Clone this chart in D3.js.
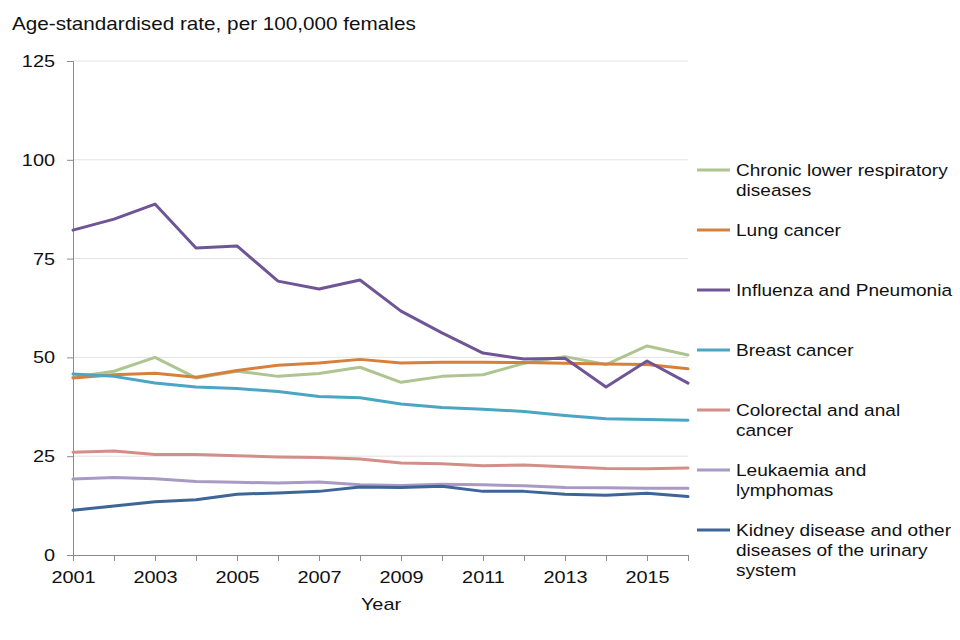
<!DOCTYPE html>
<html><head><meta charset="utf-8">
<script src="https://cdn.jsdelivr.net/npm/d3@7"></script>
<style>body{margin:0;background:#fff;}svg{display:block;font-family:"Liberation Sans",Arial,sans-serif;}</style>
</head><body>
<svg id="chart" width="960" height="640"></svg>
<script>
const years = [2001,2002,2003,2004,2005,2006,2007,2008,2009,2010,2011,2012,2013,2014,2015,2016];
const chronic = [45.0,46.5,50.0,44.8,46.5,45.2,45.9,47.5,43.7,45.2,45.6,48.5,50.2,48.2,52.9,50.6];
const lung = [44.8,45.6,46.0,45.0,46.7,48.0,48.6,49.5,48.6,48.8,48.8,48.7,48.5,48.3,48.2,47.1];
const influenza = [82.2,85.0,88.8,77.7,78.2,69.3,67.3,69.6,61.7,56.2,51.1,49.6,49.8,42.5,49.1,43.5];
const breast = [45.8,45.2,43.5,42.5,42.1,41.4,40.1,39.8,38.2,37.3,36.9,36.3,35.3,34.5,34.3,34.1];
const colorectal = [26.0,26.3,25.4,25.4,25.1,24.8,24.7,24.3,23.3,23.1,22.6,22.8,22.3,21.9,21.8,22.0];
const leukaemia = [19.2,19.6,19.3,18.6,18.4,18.2,18.5,17.8,17.6,17.9,17.8,17.5,17.1,17.0,16.9,16.9];
const kidney = [11.3,12.4,13.5,14.0,15.4,15.7,16.1,17.2,17.1,17.4,16.1,16.1,15.4,15.1,15.6,14.8];
const yTicks = [0,25,50,75,100,125];
const xTickLabels = [2001,2003,2005,2007,2009,2011,2013,2015];
const seriesNames = [["Chronic lower respiratory","diseases"],["Lung cancer"],["Influenza and Pneumonia"],["Breast cancer"],["Colorectal and anal","cancer"],["Leukaemia and","lymphomas"],["Kidney disease and other","diseases of the urinary","system"]];
const seriesValues = [chronic,lung,influenza,breast,colorectal,leukaemia,kidney];
const colors = ["#aec592","#d7803c","#6f5596","#4aa6c2","#d48e88","#a89ac4","#3d6596"];

const SX = 1.17; // horizontal stretch of the reference's text
const svg = d3.select("#chart");
const x = d3.scaleLinear().domain([2001,2016]).range([73,688]);
const y = d3.scaleLinear().domain([0,125]).range([555,61]);

// gridlines
svg.append("g").selectAll("line").data(yTicks.filter(d=>d>0)).join("line")
  .attr("x1",x(2001)).attr("x2",x(2016)).attr("y1",d=>y(d)).attr("y2",d=>y(d))
  .attr("stroke","#e3e3e3").attr("stroke-width",1);

// y axis
const ya = svg.append("g").attr("transform",`translate(${x(2001)},0)`)
  .call(d3.axisLeft(y).tickValues(yTicks).tickSize(6).tickPadding(12).tickFormat(d3.format("d")));
ya.select(".domain").attr("stroke","#8a8a8a");
ya.selectAll(".tick line").attr("stroke","#8a8a8a");
ya.selectAll("text").attr("font-size",17).attr("fill","#111").attr("font-family","Liberation Sans, Arial, sans-serif")
  .attr("x",-18/SX).attr("transform",`scale(${SX},1)`);

// x axis
const xa = svg.append("g").attr("transform",`translate(0,${y(0)})`)
  .call(d3.axisBottom(x).tickValues(years).tickSize(6).tickPadding(10).tickFormat(d=>xTickLabels.includes(d)?d:""));
xa.select(".domain").attr("stroke","#8a8a8a");
xa.selectAll(".tick line").attr("stroke","#8a8a8a");
xa.selectAll("text").attr("font-size",17).attr("fill","#111").attr("font-family","Liberation Sans, Arial, sans-serif")
  .attr("transform",`scale(${SX},1)`);

// lines
const line = d3.line().x((d,i)=>x(years[i])).y(d=>y(d));
svg.append("g").selectAll("path").data(seriesValues).join("path")
  .attr("d",line).attr("fill","none").attr("stroke",(d,i)=>colors[i])
  .attr("stroke-width",3).attr("stroke-linejoin","round").attr("stroke-linecap","round");

// titles
svg.append("text").attr("transform",`translate(12,30) scale(${SX},1)`).attr("font-size",17.7).attr("fill","#111").text("Age-standardised rate, per 100,000 females");
svg.append("text").attr("transform",`translate(381,610) scale(${SX},1)`).attr("text-anchor","middle").attr("font-size",17).attr("fill","#111").text("Year");

// legend
const lg = svg.append("g").selectAll("g").data(seriesNames).join("g")
  .attr("transform",(d,i)=>`translate(697,${170+i*60})`);
lg.append("line").attr("x1",0).attr("x2",33).attr("y1",0).attr("y2",0)
  .attr("stroke",(d,i)=>colors[i]).attr("stroke-width",3);
lg.each(function(d){
  const t = d3.select(this).append("text").attr("transform",`translate(39,6) scale(${SX},1)`).attr("font-size",16.3).attr("fill","#111");
  d.forEach((s,j)=>t.append("tspan").attr("x",0).attr("dy",j===0?0:20).text(s));
});
</script>
</body></html>
